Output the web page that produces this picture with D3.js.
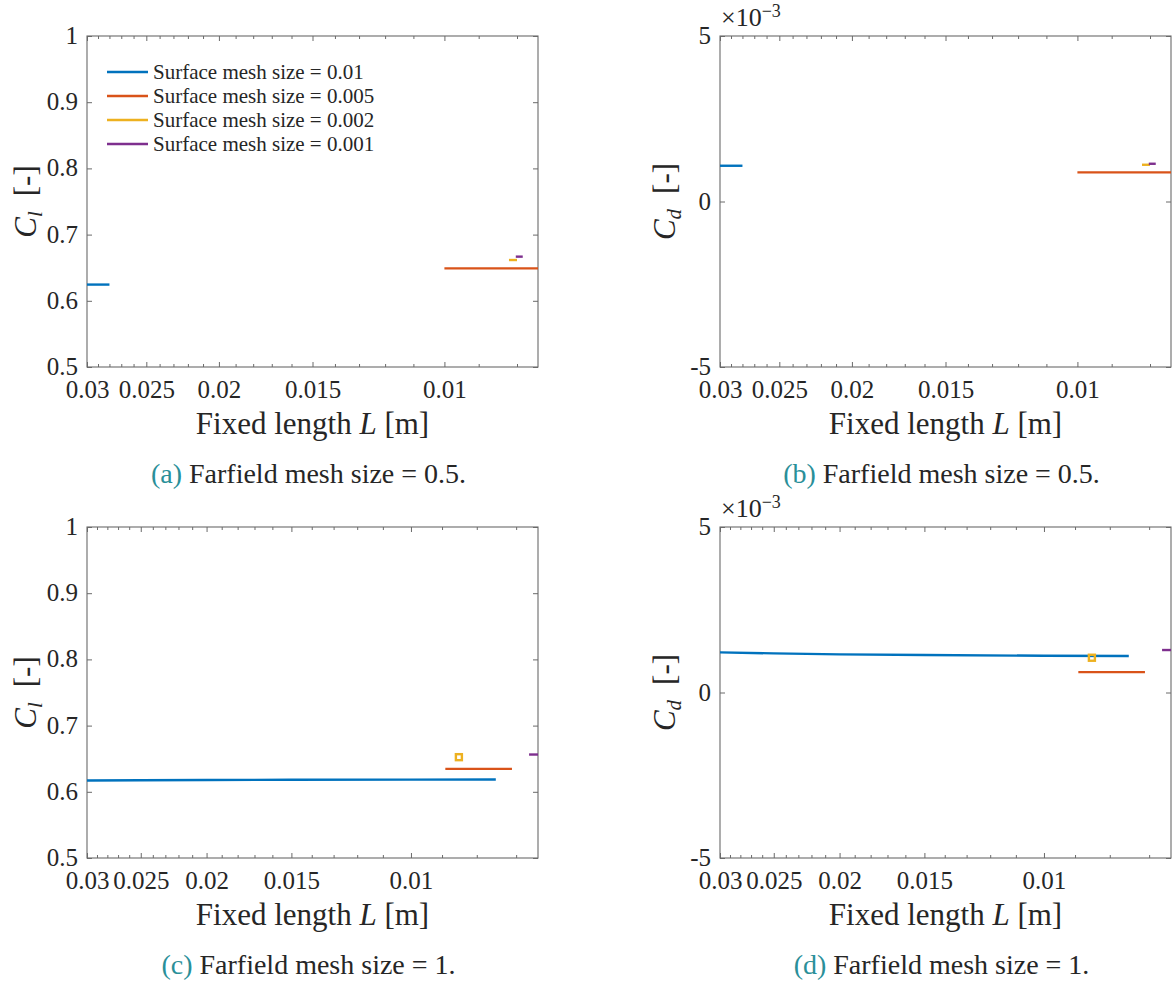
<!DOCTYPE html>
<html>
<head>
<meta charset="utf-8">
<script src="https://cdn.jsdelivr.net/npm/d3@7"></script>
<style>
  html, body { margin: 0; padding: 0; background: #fff; }
  svg { display: block; }
</style>
</head>
<body>
<svg id="fig" width="1174" height="985"></svg>
<script>
// ---- data -------------------------------------------------------------
const xTickValues = [0.03, 0.025, 0.02, 0.015, 0.01];
const clTickValues = [0.5, 0.6, 0.7, 0.8, 0.9, 1];
const cdTickValues = [-5e-3, 0, 5e-3];
const meshLabels = [
  "Surface mesh size = 0.01",
  "Surface mesh size = 0.005",
  "Surface mesh size = 0.002",
  "Surface mesh size = 0.001"
];

// Farfield mesh size = 0.5 : fixed length L [m] per surface-mesh series
const lengthsFar05 = [[0.03, 0.028], [0.01, 0.0075], [0.0082, 0.0080], [0.00803, 0.00786]];
const clFar05 = [[0.6245, 0.6245], [0.649, 0.649], [0.6616, 0.6616], [0.6667, 0.6667]];
const cdFar05 = [[1.08e-3, 1.08e-3], [0.88e-3, 0.88e-3], [1.11e-3, 1.11e-3], [1.14e-3, 1.14e-3]];

// Farfield mesh size = 1
const lengthsFar1 = [[0.03, 0.025, 0.02, 0.015, 0.01, 0.0075], [0.0089, 0.0071], [0.0085], [0.0067, 0.0065]];
const clFar1 = [[0.6171, 0.6175, 0.6178, 0.6181, 0.6184, 0.6186], [0.6347, 0.6347], [0.6523], [0.6563, 0.6563]];
const cdFar1 = [[1.212e-3, 1.182e-3, 1.152e-3, 1.131e-3, 1.111e-3, 1.101e-3], [0.616e-3, 0.616e-3], [1.05e-3], [1.283e-3, 1.283e-3]];

// ---- styles -----------------------------------------------------------
const seriesColors = ["#0072BD", "#D95319", "#EDB120", "#7E2F8E"];
const FONT = "'Liberation Serif', 'DejaVu Serif', serif";
const TEXT = "#262626";
const AXIS = "#6a6a6a";
const CAPTION_TAG = "#2a8f99";

// ---- layout -----------------------------------------------------------
const panels = [
  { tag: "(a)", caption: " Farfield mesh size = 0.5.", left: 87, right: 538, top: 36, bottom: 367,
    xMin: 0.0075, kind: "cl", L: lengthsFar05, V: clFar05, legend: true, ylabX: 36 },
  { tag: "(b)", caption: " Farfield mesh size = 0.5.", left: 720, right: 1171, top: 36, bottom: 367,
    xMin: 0.0075, kind: "cd", L: lengthsFar05, V: cdFar05, legend: false, ylabX: 675 },
  { tag: "(c)", caption: " Farfield mesh size = 1.", left: 87, right: 538, top: 527, bottom: 858,
    xMin: 0.0065, kind: "cl", L: lengthsFar1, V: clFar1, legend: false, ylabX: 36 },
  { tag: "(d)", caption: " Farfield mesh size = 1.", left: 720, right: 1171, top: 527, bottom: 858,
    xMin: 0.0065, kind: "cd", L: lengthsFar1, V: cdFar1, legend: false, ylabX: 675 }
];

const svg = d3.select("#fig");
const fmtX = d3.format("~g");

function styleAxis(sel, fontSize) {
  sel.select(".domain").remove();
  sel.attr("font-family", FONT).attr("font-size", fontSize);
  sel.selectAll("line").attr("stroke", AXIS).attr("stroke-width", 1);
  sel.selectAll("text").attr("fill", TEXT);
}

panels.forEach((p, pi) => {
  const g = svg.append("g");
  const x = d3.scaleLog().domain([0.03, p.xMin]).range([p.left, p.right]);
  const yDomain = p.kind === "cl" ? [0.5, 1] : [-5e-3, 5e-3];
  const y = d3.scaleLinear().domain(yDomain).range([p.bottom, p.top]);
  const yTicks = p.kind === "cl" ? clTickValues : cdTickValues;
  const yFmt = p.kind === "cl"
    ? (d => d3.format("~g")(d))
    : (d => String(Math.round(d * 1000)));

  // minor ticks every 0.001 m inside the x domain
  const minor = d3.range(6, 31).map(k => k / 1000)
    .filter(v => v <= 0.03 && v >= p.xMin && !xTickValues.some(t => Math.abs(t - v) < 1e-9));

  // bottom axis (labels) + minor ticks
  g.append("g").attr("transform", `translate(0,${p.bottom})`)
    .call(d3.axisBottom(x).tickValues(xTickValues).tickFormat(fmtX)
      .tickSizeInner(-5).tickSizeOuter(0).tickPadding(13))
    .call(s => styleAxis(s, 25));
  g.append("g").attr("transform", `translate(0,${p.bottom})`)
    .call(d3.axisBottom(x).tickValues(minor).tickFormat("").tickSizeInner(-3).tickSizeOuter(0))
    .call(s => styleAxis(s, 25));
  // top mirror ticks
  g.append("g").attr("transform", `translate(0,${p.top})`)
    .call(d3.axisTop(x).tickValues(xTickValues).tickFormat("").tickSizeInner(-5).tickSizeOuter(0))
    .call(s => styleAxis(s, 25));
  g.append("g").attr("transform", `translate(0,${p.top})`)
    .call(d3.axisTop(x).tickValues(minor).tickFormat("").tickSizeInner(-3).tickSizeOuter(0))
    .call(s => styleAxis(s, 25));
  // left axis (labels) and right mirror ticks
  g.append("g").attr("transform", `translate(${p.left},0)`)
    .call(d3.axisLeft(y).tickValues(yTicks).tickFormat(yFmt)
      .tickSizeInner(-5).tickSizeOuter(0).tickPadding(9))
    .call(s => styleAxis(s, 25))
    .call(s => s.selectAll("text").attr("dy", "0.3em"));
  g.append("g").attr("transform", `translate(${p.right},0)`)
    .call(d3.axisRight(y).tickValues(yTicks).tickFormat("").tickSizeInner(-5).tickSizeOuter(0))
    .call(s => styleAxis(s, 25));

  // frame
  g.append("rect")
    .attr("x", p.left).attr("y", p.top)
    .attr("width", p.right - p.left).attr("height", p.bottom - p.top)
    .attr("fill", "none").attr("stroke", AXIS).attr("stroke-width", 1.1);

  // series, clipped to the axes box
  const clipId = "clip" + pi;
  g.append("clipPath").attr("id", clipId).append("rect")
    .attr("x", p.left).attr("y", p.top)
    .attr("width", p.right - p.left).attr("height", p.bottom - p.top);
  const plot = g.append("g").attr("clip-path", `url(#${clipId})`);
  const line = d3.line().x(d => x(d[0])).y(d => y(d[1]));

  p.L.forEach((Ls, si) => {
    const pts = Ls.map((L, i) => [L, p.V[si][i]]);
    if (pts.length > 1) {
      plot.append("path").datum(pts)
        .attr("d", line)
        .attr("fill", "none")
        .attr("stroke", seriesColors[si])
        .attr("stroke-width", 2.4);
    } else {
      plot.selectAll(null).data(pts).enter().append("rect")
        .attr("x", d => x(d[0]) - 3).attr("y", d => y(d[1]) - 3)
        .attr("width", 6).attr("height", 6)
        .attr("fill", "none")
        .attr("stroke", seriesColors[si])
        .attr("stroke-width", 2.4);
    }
  });

  // x label
  const cx = (p.left + p.right) / 2;
  const xl = g.append("text")
    .attr("x", cx).attr("y", p.bottom + 67)
    .attr("text-anchor", "middle")
    .attr("font-family", FONT).attr("font-size", 31).attr("fill", TEXT);
  xl.append("tspan").text("Fixed length ");
  xl.append("tspan").attr("font-style", "italic").text("L");
  xl.append("tspan").text(" [m]");

  // y label
  const cy = (p.top + p.bottom) / 2;
  const yl = g.append("text")
    .attr("transform", `translate(${p.ylabX},${cy}) rotate(-90)`)
    .attr("text-anchor", "middle")
    .attr("font-family", FONT).attr("font-size", 31).attr("fill", TEXT);
  yl.append("tspan").attr("font-style", "italic").text("C");
  yl.append("tspan").attr("font-style", "italic").attr("font-size", 21).attr("dy", 6)
    .text(p.kind === "cl" ? "l" : "d");
  yl.append("tspan").attr("dy", -6).attr("dx", 15).text("[-]");

  // exponent marker for drag axes
  if (p.kind === "cd") {
    const ex = g.append("text")
      .attr("x", p.left + 1).attr("y", p.top - 10)
      .attr("font-family", FONT).attr("font-size", 26).attr("fill", TEXT);
    ex.append("tspan").text("\u00d710");
    ex.append("tspan").attr("font-size", 18).attr("dy", -9).text("\u22123");
  }

  // legend
  if (p.legend) {
    const lg = g.append("g");
    meshLabels.forEach((lab, i) => {
      const ly = 72 + i * 24;
      lg.append("line")
        .attr("x1", p.left + 20).attr("x2", p.left + 61)
        .attr("y1", ly).attr("y2", ly)
        .attr("stroke", seriesColors[i]).attr("stroke-width", 2.6);
      lg.append("text")
        .attr("x", p.left + 66).attr("y", ly).attr("dy", "0.35em")
        .attr("font-family", FONT).attr("font-size", 21).attr("fill", TEXT)
        .text(lab);
    });
  }

  // caption
  const cap = g.append("text")
    .attr("x", cx - 4).attr("y", p.bottom + 116)
    .attr("text-anchor", "middle")
    .attr("font-family", FONT).attr("font-size", 28).attr("fill", TEXT);
  cap.append("tspan").attr("fill", CAPTION_TAG).text(p.tag);
  cap.append("tspan").text(p.caption);
});
</script>
</body>
</html>
